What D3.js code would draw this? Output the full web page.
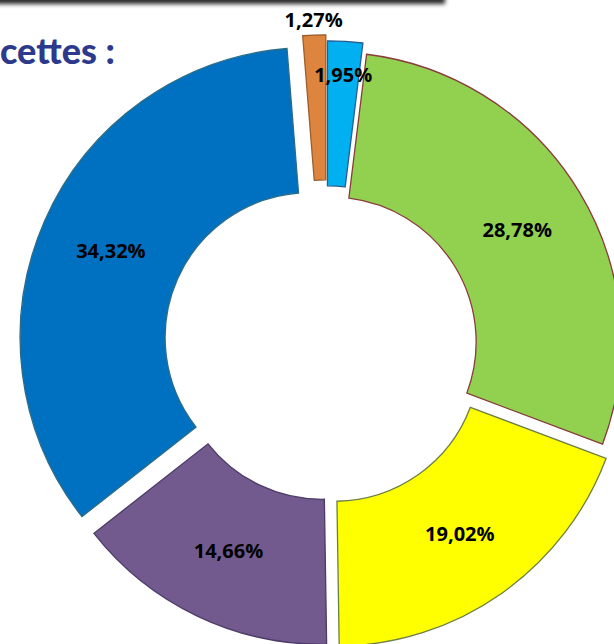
<!DOCTYPE html>
<html>
<head>
<meta charset="utf-8">
<script src="https://cdn.jsdelivr.net/npm/d3@7"></script>
<style>
  body { margin: 0; background: #fff; overflow: hidden; }
  svg { display: block; }
</style>
</head>
<body>
<script>
// slices, clockwise from 12 o'clock
var labels = ["1,95%", "28,78%", "19,02%", "14,66%", "34,32%", "1,27%"];
var values = [1.95, 28.78, 19.02, 14.66, 34.32, 1.27];
var fills = ["#00b0f0", "#92d050", "#ffff00", "#725a8e", "#0070c0", "#dd853e"];
var strokes = ["#2a5d93", "#8a3b3b", "#6b7f45", "#4b3b66", "#2c6d86", "#9c5e2c"];

var width = 614, height = 644,
    cx = 326.6, cy = 344.8,
    outerRadius = 290, innerRadius = 145;

// how far each slice is pulled out, and where its label sits
var explode = [14, 5.3, 14, 10.5, 18, 20];
var labelRadius = [257, null, null, null, null, 305];

var svg = d3.select("body").append("svg")
    .attr("width", width)
    .attr("height", height);

// shadow band at the top edge
var defs = svg.append("defs");
defs.append("filter").attr("id", "blur")
    .attr("x", "-10%").attr("y", "-200%").attr("width", "120%").attr("height", "500%")
  .append("feGaussianBlur").attr("stdDeviation", 2);

svg.append("rect")
    .attr("x", -20).attr("y", -12)
    .attr("width", 465).attr("height", 16)
    .attr("fill", "#2a2a2a")
    .attr("filter", "url(#blur)");

// title (only its tail shows in the frame)
svg.append("text")
    .attr("x", 0).attr("y", 64)
    .style("font-family", "Lato")
    .style("font-weight", 900)
    .style("font-size", "36px")
    .style("fill", "#2d3a8c")
    .text("cettes :");

var pie = d3.pie().sort(null).value(function(d) { return d; });
var arcs = pie(values);

var arc = d3.arc()
    .innerRadius(innerRadius)
    .outerRadius(outerRadius);

function offset(d, i) {
    var a = (d.startAngle + d.endAngle) / 2;
    return [cx + explode[i] * Math.sin(a), cy - explode[i] * Math.cos(a)];
}

var slices = svg.append("g"),
    texts = svg.append("g");

slices.selectAll("path")
    .data(arcs)
    .enter().append("path")
    .attr("transform", function(d, i) { var o = offset(d, i); return "translate(" + o[0] + "," + o[1] + ")"; })
    .attr("d", arc)
    .attr("fill", function(d, i) { return fills[i]; })
    .attr("stroke", function(d, i) { return strokes[i]; })
    .attr("stroke-width", 1.3);

texts.selectAll("text")
    .data(arcs)
    .enter().append("text")
    .attr("transform", function(d, i) {
        var a = (d.startAngle + d.endAngle) / 2,
            r = labelRadius[i] || (innerRadius + outerRadius) / 2,
            o = offset(d, i);
        return "translate(" + (o[0] + r * Math.sin(a)) + "," + (o[1] - r * Math.cos(a)) + ")";
    })
    .attr("dy", "0.36em")
    .attr("text-anchor", "middle")
    .style("font-family", "Open Sans")
    .style("font-weight", 700)
    .style("font-size", "20px")
    .style("fill", "#000")
    .text(function(d, i) { return labels[i]; });
</script>
</body>
</html>
